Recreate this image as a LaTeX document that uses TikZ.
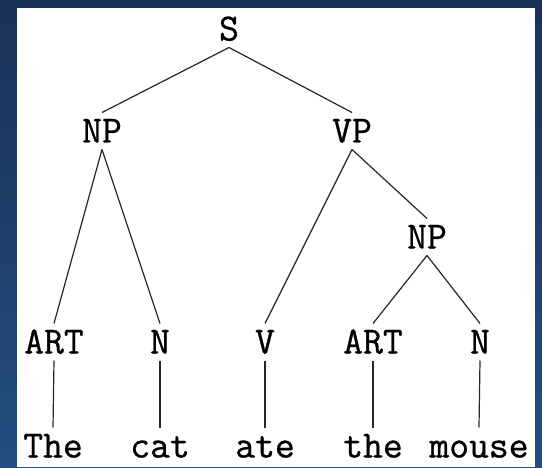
\documentclass[tikz,border=0pt]{standalone}
\usepackage{fontspec}
\setmonofont[FakeBold=0.8]{Latin Modern Mono}
\begin{document}
\begin{tikzpicture}[x=1pt,y=1pt,
  lbl/.style={font=\ttfamily\fontsize{38.5}{40}\selectfont, inner sep=0pt, outer sep=7pt,
    text height=23pt, text depth=0pt, anchor=center},
  edge/.style={draw=black!85, line width=1.2pt}]
\useasboundingbox (0,0) rectangle (542,467);
\shade[top color={rgb,255:red,26;green,50;blue,86}, bottom color={rgb,255:red,35;green,78;blue,128}] (0,0) rectangle (542,467);
\fill[white] (17,0) rectangle (535,459);
% nodes (y = 467 - ypx)
\node[lbl] (S) at (229,438) {S};
\node[lbl] (NP) at (102,336) {NP};
\node[lbl] (VP) at (352,336) {VP};
\node[lbl] (NP2) at (427,230) {NP};
\node[lbl] (ART) at (54,125) {ART};
\node[lbl] (N) at (160,125) {N};
\node[lbl] (V) at (265,125) {V};
\node[lbl] (ART2) at (373,125) {ART};
\node[lbl] (N2) at (480,125) {N};
\node[lbl] (w1) at (53,21) {The};
\node[lbl] (w2) at (160,21) {cat};
\node[lbl] (w3) at (265,21) {ate};
\node[lbl] (w4) at (373,21) {the};
\node[lbl] (w5) at (479,21) {mouse};
% edges
\draw[edge] (S.south) -- (NP.north);
\draw[edge] (S.south) -- (VP.north);
\draw[edge] (NP.south) -- (ART.north);
\draw[edge] (NP.south) -- (N.north);
\draw[edge] (VP.south) -- (V.north);
\draw[edge] (VP.south) -- (NP2.north);
\draw[edge] (NP2.south) -- (ART2.north);
\draw[edge] (NP2.south) -- (N2.north);
\draw[edge] (ART.south) -- (w1.north);
\draw[edge] (N.south) -- (w2.north);
\draw[edge] (V.south) -- (w3.north);
\draw[edge] (ART2.south) -- (w4.north);
\draw[edge] (N2.south) -- (w5.north);
\end{tikzpicture}
\end{document}
